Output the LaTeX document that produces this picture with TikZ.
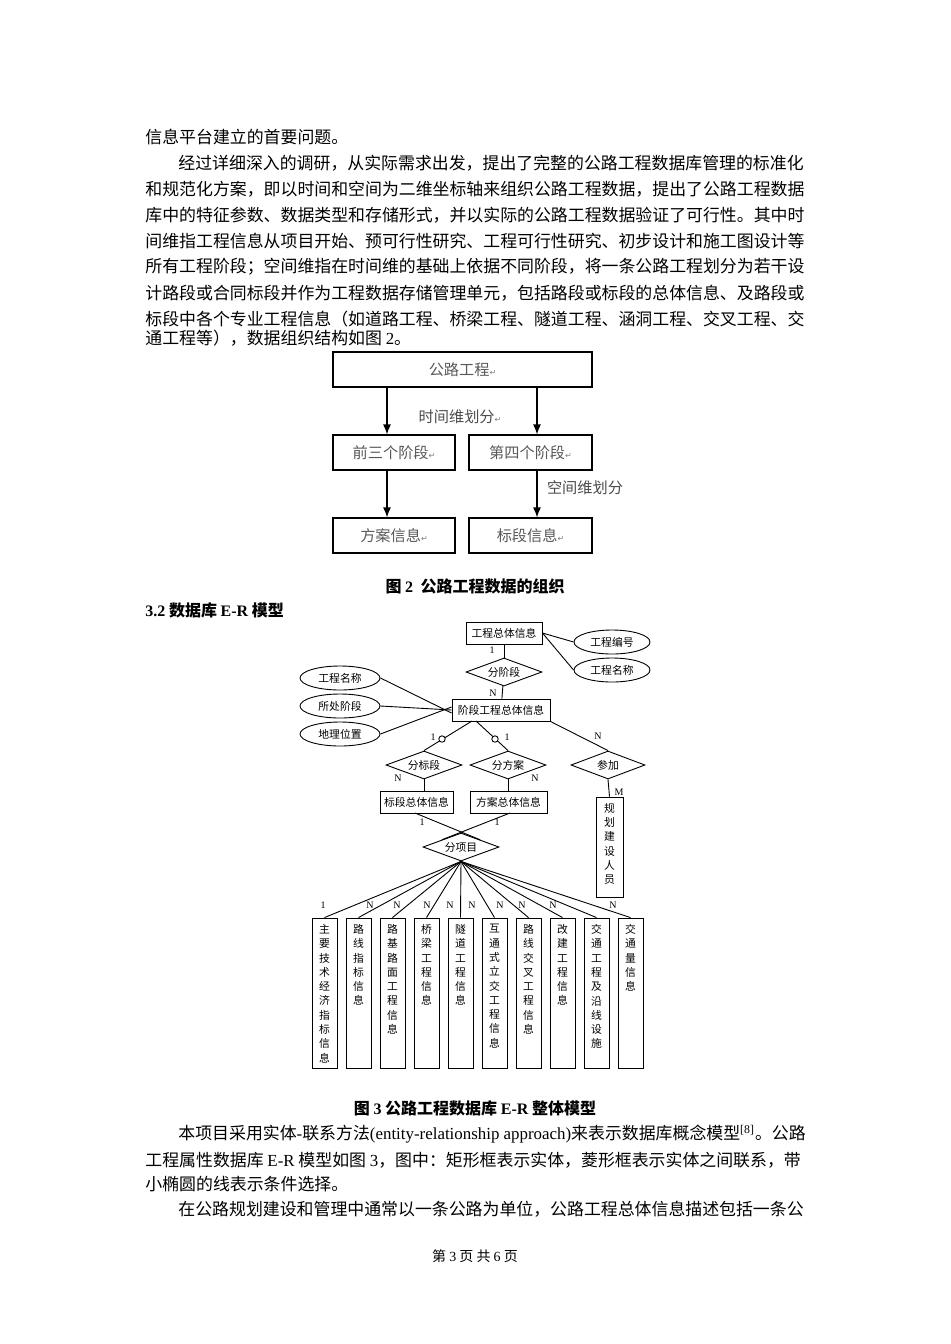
\documentclass[tikz,border=0pt]{standalone}
\usepackage{fontspec}
\setmainfont{Liberation Serif}
\newfontfamily\cjk{Noto Sans CJK SC}
\newfontfamily\dvs{DejaVu Sans}
\usetikzlibrary{arrows.meta,shapes.geometric}
\newcommand{\rt}{{\dvs\fontsize{4pt}{4pt}\selectfont\textcolor{gray}{↵}}}
\newcommand{\lt}[1]{{\rmfamily #1}}
\begin{document}
\begin{tikzpicture}[x=0.5pt,y=-0.5pt,
  txt/.style={anchor=west,inner sep=0,font=\cjk\fontsize{8.45pt}{10pt}\selectfont},
  capt/.style={inner sep=0,font=\cjk\bfseries\fontsize{8pt}{10pt}\selectfont},
  tbox/.style={draw,line width=0.6pt,inner sep=0,minimum height=17.5pt,text=black!65,font=\cjk\fontsize{7.6pt}{9pt}\selectfont},
  arr/.style={line width=0.6pt,-{Latex[length=5pt,width=4pt]}},
  tlab/.style={inner sep=0,text=black!70,font=\cjk\fontsize{7.6pt}{9pt}\selectfont},
  ent/.style={draw,line width=0.45pt,inner sep=0,minimum height=11pt,font=\cjk\fontsize{5.4pt}{7pt}\selectfont},
  att/.style={draw,ellipse,line width=0.45pt,inner sep=0,minimum width=38pt,minimum height=12pt,font=\cjk\fontsize{5.4pt}{7pt}\selectfont},
  rel/.style={draw,diamond,aspect=3.2,line width=0.45pt,inner sep=0,minimum width=38pt,minimum height=14pt,font=\cjk\fontsize{5.4pt}{7pt}\selectfont},
  ln/.style={line width=0.45pt},
  card/.style={inner sep=0,font=\rmfamily\fontsize{5pt}{6pt}\selectfont},
  vbox/.style={draw,line width=0.45pt,inner sep=0,minimum width=12.5pt,minimum height=75pt},
  vtxt/.style={anchor=north,inner sep=0,align=center,font=\cjk\fontsize{5.4pt}{7.15pt}\selectfont}]
\useasboundingbox[fill=white] (0,0) rectangle (950,1344);
% body text top
\node[txt] (l1) at (145,137) {信息平台建立的首要问题。};
\node[txt] (l2) at (178,163) {经过详细深入的调研，从实际需求出发，提出了完整的公路工程数据库管理的标准化};
\node[txt] (l3) at (145,189) {和规范化方案，即以时间和空间为二维坐标轴来组织公路工程数据，提出了公路工程数据};
\node[txt] (l4) at (145,215) {库中的特征参数、数据类型和存储形式，并以实际的公路工程数据验证了可行性。其中时};
\node[txt] (l5) at (145,241) {间维指工程信息从项目开始、预可行性研究、工程可行性研究、初步设计和施工图设计等};
\node[txt] (l6) at (145,267) {所有工程阶段；空间维指在时间维的基础上依据不同阶段，将一条公路工程划分为若干设};
\node[txt] (l7) at (145,293) {计路段或合同标段并作为工程数据存储管理单元，包括路段或标段的总体信息、及路段或};
\node[txt] (l8) at (145,319) {标段中各个专业工程信息（如道路工程、桥梁工程、隧道工程、涵洞工程、交叉工程、交};
\node[txt] (l9) at (145,338) {通工程等），数据组织结构如图 \lt{2}。};
% figure 2
\node[tbox,minimum width=129.5pt] (gl) at (462.5,369.5) {公路工程\rt};
\node[tbox,minimum width=61pt] (q3) at (394,452.5) {前三个阶段\rt};
\node[tbox,minimum width=61.5pt] (d4) at (530.5,452.5) {第四个阶段\rt};
\node[tbox,minimum width=61pt] (fa) at (394,535.5) {方案信息\rt};
\node[tbox,minimum width=61.5pt] (bd) at (530.5,535.5) {标段信息\rt};
\coordinate (c1) at (387,0); \coordinate (c2) at (537,0);
\draw[arr] (gl.south -| c1) -- (q3.north -| c1);
\draw[arr] (gl.south -| c2) -- (d4.north -| c2);
\draw[arr] (q3.south -| c1) -- (fa.north -| c1);
\draw[arr] (d4.south -| c2) -- (bd.north -| c2);
\node[tlab] (t1) at (460,417) {时间维划分\rt};
\node[tlab] (t2) at (585,488) {空间维划分};
\node[capt] (cp2) at (475,586) {图 \lt{\bfseries 2}\ \ 公路工程数据的组织};
\node[capt,anchor=west] (sec) at (145,610) {\lt{\bfseries 3.2} 数据库 \lt{\bfseries E-R} 模型};
% ER diagram
\node[ent,minimum width=38pt] (zt) at (504,633) {工程总体信息};
\node[att] (a1) at (612,642) {工程编号};
\node[att] (a2) at (612,670) {工程名称};
\draw[ln] (zt.east) -- (a1.west);
\draw[ln] (zt.east) -- (a2.west);
\node[card] at (492,650) {1};
\node[rel] (fj) at (504,672) {分阶段};
\draw[ln] (zt) -- (fj);
\node[card] at (493,693) {N};
\node[ent,minimum width=49pt] (jd) at (501,710) {阶段工程总体信息};
\draw[ln] (fj) -- (jd);
\node[att,minimum width=40pt] (b1) at (340,678) {工程名称};
\node[att,minimum width=40pt] (b2) at (340,706) {所处阶段};
\node[att,minimum width=40pt] (b3) at (340,734) {地理位置};
\draw[ln] (b1.east) -- ([yshift=-1.5pt]jd.west);
\draw[ln] (b2.east) -- (jd.west);
\draw[ln] (b3.east) -- ([yshift=1.5pt]jd.west);
\node[rel] (fb) at (424,765) {分标段};
\node[rel] (ff) at (508,765) {分方案};
\node[rel,minimum width=37pt] (cj) at (608,765) {参加};
\coordinate (j1) at (472,721); \coordinate (j2) at (476,721);
\draw[ln] (j1) -- (fb.north);
\draw[ln] (j2) -- (ff.north);
\draw[ln] (jd.south east) -- (cj.north);
\draw[ln,fill=white] (442,739) circle (1.6pt);
\draw[ln,fill=white] (495,739) circle (1.6pt);
\node[card] at (433,737) {1};
\node[card] at (507,737) {1};
\node[card] at (598,736) {N};
\node[card] at (398,778) {N};
\node[card] at (535,778) {N};
\node[card] at (619,792) {M};
\node[vbox,minimum width=13.5pt,minimum height=50pt] (gh) at (609.5,847) {};
\node[vtxt] at (609.5,803) {规\\划\\建\\设\\人\\员};
\draw[ln] (cj.south) -- (gh.north);
\node[ent,minimum width=36.5pt] (bz) at (416.5,802.5) {标段总体信息};
\node[ent,minimum width=38.5pt] (fz) at (508.5,802.5) {方案总体信息};
\draw[ln] (fb.south) -- (fb.south |- bz.north);
\draw[ln] (ff.south) -- (ff.south |- fz.north);
\node[card] at (422,822) {1};
\node[card] at (497,822) {1};
\node[rel] (fx) at (461,847) {分项目};
\coordinate (x1) at (415,813); \coordinate (x2) at (510,813);
\draw[ln] (x1) -- (fx.north east);
\draw[ln] (x2) -- (fx.north west);
% bottom boxes
\foreach \i/\x/\t in {1/324.5/主\\要\\技\\术\\经\\济\\指\\标\\信\\息,
  2/358.5/路\\线\\指\\标\\信\\息,
  3/392.5/路\\基\\路\\面\\工\\程\\信\\息,
  4/426.5/桥\\梁\\工\\程\\信\\息,
  5/460.5/隧\\道\\工\\程\\信\\息,
  6/494.5/互\\通\\式\\立\\交\\工\\程\\信\\息,
  7/528.5/路\\线\\交\\叉\\工\\程\\信\\息,
  8/562.5/改\\建\\工\\程\\信\\息,
  9/596.5/交\\通\\工\\程\\及\\沿\\线\\设\\施,
  10/630.5/交\\通\\量\\信\\息}{
  \node[vbox] (v\i) at (\x,993) {};
  \node[vtxt] (vt\i) at (\x,924) {\t};
  \draw[ln] (fx.south) -- (v\i.north);
}
\node[card] at (323,905) {1};
\foreach \x in {370,397,427,450,472,500,522,553,613} \node[card] at (\x,905) {N};
\node[capt] (cp3) at (475,1108) {图 \lt{\bfseries 3} 公路工程数据库 \lt{\bfseries E-R} 整体模型};
% body text bottom
\node[txt] (m1) at (178,1134) {本项目采用实体\lt{-}联系方法\lt{(entity-relationship approach)}来表示数据库概念模型\textsuperscript{\lt{[8]}}。公路};
\node[txt] (m2) at (145,1160) {工程属性数据库 \lt{E-R} 模型如图 \lt{3}，图中：矩形框表示实体，菱形框表示实体之间联系，带};
\node[txt] (m3) at (145,1184) {小椭圆的线表示条件选择。};
\node[txt] (m4) at (178,1209) {在公路规划建设和管理中通常以一条公路为单位，公路工程总体信息描述包括一条公};
\node[inner sep=0,font=\cjk\fontsize{7pt}{8pt}\selectfont] (ft) at (475,1256) {第 \lt{3} 页 共 \lt{6} 页};
\end{tikzpicture}
\end{document}
